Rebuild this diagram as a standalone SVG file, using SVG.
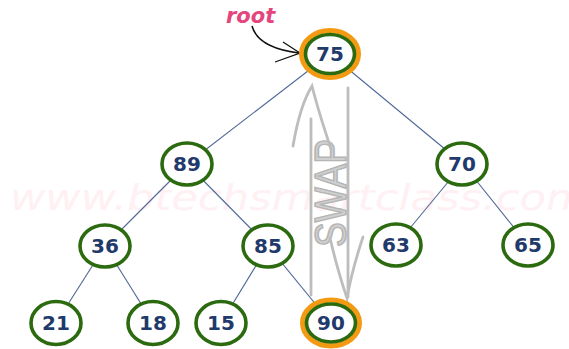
<svg xmlns="http://www.w3.org/2000/svg" width="569" height="349" viewBox="0 0 569 349">
<defs>
<style>
.edge{stroke:#4f6896;stroke-width:1.1;fill:none}
.ring{fill:#fff;stroke:#2b6a0e;stroke-width:3.6}
.halo{fill:#fff;stroke:#f39a12;stroke-width:5}
.lbl{font-family:"DejaVu Sans",sans-serif;font-weight:bold;font-size:20px;fill:#1f3a6b;text-anchor:middle}
.swap{stroke:#bdbdbd;stroke-width:2.8;fill:none;stroke-linecap:round}
</style>
</defs>
<rect width="569" height="349" fill="#fff"/>
<text x="10" y="210" font-family="DejaVu Sans, sans-serif" font-style="italic" font-size="36" fill="#fef0f3" textLength="578" lengthAdjust="spacingAndGlyphs">www.btechsmartclass.com</text>
<g id="connectors">
<line class="edge" x1="330" y1="54" x2="187" y2="164"/>
<line class="edge" x1="330" y1="54" x2="463" y2="164"/>
<line class="edge" x1="187" y1="164" x2="105" y2="246"/>
<line class="edge" x1="187" y1="164" x2="268" y2="246"/>
<line class="edge" x1="463" y1="164" x2="396" y2="245"/>
<line class="edge" x1="463" y1="164" x2="528" y2="245"/>
<line class="edge" x1="105" y1="246" x2="56" y2="323"/>
<line class="edge" x1="105" y1="246" x2="153" y2="323"/>
<line class="edge" x1="268" y1="246" x2="221" y2="323"/>
<line class="edge" x1="268" y1="246" x2="331" y2="323"/>
</g>
<g id="swap">
<text x="346" y="193" transform="rotate(-90 346 193)" font-family="Liberation Sans, sans-serif" font-size="45" fill="#d0d0d0" stroke="#b5b5b5" stroke-width="1.6" text-anchor="middle" textLength="108" lengthAdjust="spacingAndGlyphs">SWAP</text>
<path class="swap" d="M311 119 L311 295"/>
<path class="swap" d="M348 88 L348 297"/>
<path class="swap" d="M293 146 Q300 105 312 86 Q318 110 331 149"/>
<path class="swap" d="M330 238 Q338 272 347 298 Q352 270 363 237"/>
</g>
<g id="root-label">
<text x="226" y="23" font-family="DejaVu Sans, sans-serif" font-weight="bold" font-style="italic" font-size="21" fill="#e4457d">root</text>
<path d="M252 26 Q258 48 299 53" fill="none" stroke="#111" stroke-width="1.6"/>
<path d="M283 42 L300 53 L275 62" fill="none" stroke="#111" stroke-width="1.3"/>
</g>
<g id="n75"><ellipse class="halo" cx="330" cy="54" rx="28.5" ry="23.5"/><ellipse class="ring" cx="330" cy="54" rx="24.5" ry="19.5"/><text class="lbl" x="330" y="61">75</text></g>
<g id="n89"><ellipse class="ring" cx="187" cy="164" rx="25" ry="21"/><text class="lbl" x="187" y="171">89</text></g>
<g id="n70"><ellipse class="ring" cx="462" cy="164" rx="25" ry="21"/><text class="lbl" x="462" y="171">70</text></g>
<g id="n36"><ellipse class="ring" cx="105" cy="246" rx="25" ry="21"/><text class="lbl" x="105" y="253">36</text></g>
<g id="n85"><ellipse class="ring" cx="268" cy="246" rx="25" ry="21"/><text class="lbl" x="268" y="253">85</text></g>
<g id="n63"><ellipse class="ring" cx="396" cy="245" rx="25" ry="21"/><text class="lbl" x="396" y="252">63</text></g>
<g id="n65"><ellipse class="ring" cx="528" cy="245" rx="25" ry="21"/><text class="lbl" x="528" y="252">65</text></g>
<g id="n21"><ellipse class="ring" cx="56" cy="323" rx="25" ry="21.5"/><text class="lbl" x="56" y="330">21</text></g>
<g id="n18"><ellipse class="ring" cx="153" cy="323" rx="25" ry="21.5"/><text class="lbl" x="153" y="330">18</text></g>
<g id="n15"><ellipse class="ring" cx="221" cy="323" rx="25" ry="21.5"/><text class="lbl" x="221" y="330">15</text></g>
<g id="n90"><ellipse class="halo" cx="331" cy="323" rx="28.5" ry="23"/><ellipse class="ring" cx="331" cy="323" rx="24.5" ry="19"/><text class="lbl" x="331" y="330">90</text></g>
</svg>
